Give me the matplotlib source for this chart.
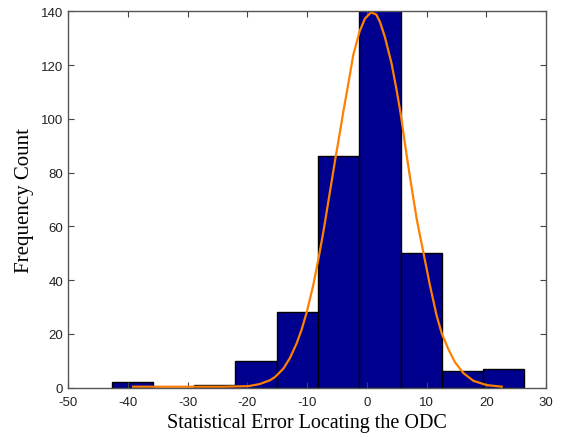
import numpy as np
import matplotlib
matplotlib.use("Agg")
import matplotlib.pyplot as plt

plt.rcParams["axes.unicode_minus"] = False

# histogram bins (10 equal bins)
bin_edges = [-42.7, -35.79, -28.88, -21.97, -15.06, -8.15, -1.24, 5.67, 12.58, 19.49, 26.4]
counts = [2, 0, 1, 10, 28, 86, 142, 50, 6, 7]

# fitted curve, points
curve_x = [-39.1, -30.0, -24.0, -19.8, -17.9, -16.2, -15.36, -13.96, -12.85, -11.72,
           -10.89, -10.05, -8.94, -8.1, -7.27, -6.43, -5.31, -4.76, -3.93, -3.09,
           -2.25, -1.2, -0.3, 0.71, 1.6, 2.22, 3.05, 4.17, 5.01, 5.68, 6.4, 7.24,
           7.91, 8.36, 9.47, 10.59, 11.7, 12.54, 13.65, 14.77, 16.16, 17.84, 20.07, 22.6]
curve_y = [0.3, 0.3, 0.3, 0.5, 1.3, 2.7, 3.9, 7.0, 11.0, 16.5,
           21.6, 28.0, 38.2, 47.7, 57.8, 69.2, 84.4, 91.5, 102.5, 113.0,
           123.8, 132.5, 137.3, 139.6, 138.8, 136.0, 130.3, 120.4, 110.5, 101.8, 90.6, 78.2,
           68.9, 62.7, 50.3, 37.9, 26.7, 20.2, 14.3, 9.4, 5.4, 2.5, 0.9, 0.3]

x_ticks = [-50, -40, -30, -20, -10, 0, 10, 20, 30]
y_ticks = [0, 20, 40, 60, 80, 100, 120, 140]

fig = plt.figure(figsize=(5.63, 4.39), dpi=100)
ax = fig.add_axes([0.1208, 0.115, 0.849, 0.857])

widths = np.diff(bin_edges)
ax.bar(bin_edges[:-1], counts, width=widths, align="edge",
       color="#00008F", edgecolor="black", linewidth=1.0)
ax.plot(curve_x, curve_y, color="#FF8000", linewidth=1.6)

ax.set_xlim(-50, 30)
ax.set_ylim(0, 140)
ax.set_xticks(x_ticks)
ax.set_yticks(y_ticks)
ax.tick_params(direction="in", top=True, right=True, length=4, width=0.8,
               color="#444444", labelcolor="#222222", labelsize=9.5)
ax.tick_params(axis="x", pad=6)
for lbl in ax.get_xticklabels() + ax.get_yticklabels():
    lbl.set_family("Liberation Sans")
for s in ax.spines.values():
    s.set_color("#555555")
    s.set_linewidth(1.0)

ax.set_xlabel("Statistical Error Locating the ODC", family="Liberation Serif",
              fontsize=14.5, labelpad=4)
ax.set_ylabel("Frequency Count", family="Liberation Serif", fontsize=15, labelpad=5)

fig.savefig("out.png", dpi=100)
